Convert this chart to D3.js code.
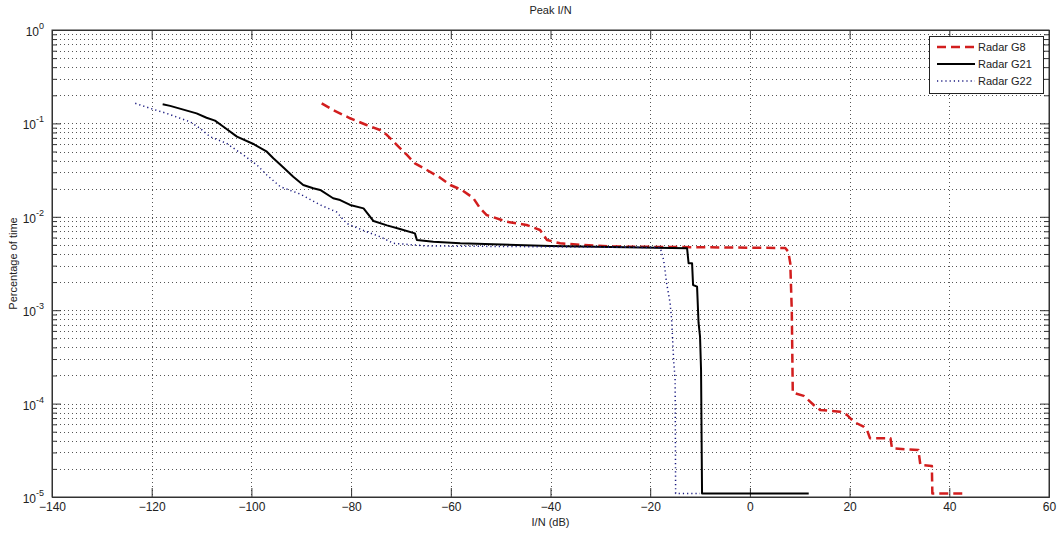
<!DOCTYPE html>
<html><head><meta charset="utf-8">
<script src="https://cdn.jsdelivr.net/npm/d3@7"></script>
<style>body{margin:0;background:#fff}svg{display:block}text{font-family:"Liberation Sans",Arial,sans-serif}</style>
</head><body><svg id="c" width="1057" height="535"></svg>
<script>
const xTicks = [-140,-120,-100,-80,-60,-40,-20,0,20,40,60];
const yExps = [0,-1,-2,-3,-4,-5];
const seriesNames = ["Radar G8","Radar G21","Radar G22"];

const g8X = [-85.9,-83.6,-80.2,-76.9,-74.2,-72.8,-70.8,-68.8,-67.2,-64.8,-62.2,-60.1,-57.8,-55.5,-54.1,-52.8,-48.8,-44.8,-42.1,-40.7,-38.1,-33.4,-28.0,7.1,7.7,8.1,8.4,8.6,10.8,12.8,14.1,18.1,19.5,20.8,22.8,23.5,24.1,28.2,28.5,33.8,34.2,36.5,36.6,43.5];
const g8Y = [0.164,0.139,0.1135,0.0961,0.085,0.0751,0.0587,0.0459,0.0374,0.0317,0.0264,0.0219,0.0194,0.0159,0.0123,0.01045,0.00887,0.00817,0.00722,0.00565,0.0052,0.00499,0.00481,0.00463,0.00423,0.00318,0.001,0.000131,0.000121,0.0000966,0.0000854,0.0000819,0.0000755,0.000064,0.0000566,0.0000522,0.0000425,0.0000425,0.0000332,0.0000318,0.000022,0.0000215,0.0000109,0.0000109];

const g21X = [-117.8,-116.3,-111.0,-109.0,-107.3,-105.6,-102.9,-99.6,-96.9,-95.6,-93.9,-91.6,-89.6,-87.6,-86.2,-83.6,-82.2,-80.2,-77.5,-75.5,-72.8,-70.2,-67.2,-66.8,-63.5,-58.1,-40.1,-12.6,-12.3,-11.6,-11.4,-10.6,-10.3,-10.0,-9.8,-9.6,11.8];
const g21Y = [0.16,0.154,0.128,0.115,0.107,0.0922,0.0721,0.0602,0.0498,0.0423,0.035,0.0269,0.0219,0.0202,0.0194,0.0158,0.0151,0.0134,0.0123,0.009,0.0081,0.0074,0.00665,0.00565,0.00541,0.0052,0.00487,0.0046,0.00318,0.00318,0.00186,0.00179,0.00073,0.00052,0.000229,0.0000109,0.0000109];

const g22X = [-123.3,-120.3,-117.0,-112.3,-110.3,-108.3,-105.0,-101.6,-98.9,-96.9,-94.2,-90.2,-86.2,-82.9,-80.9,-77.5,-74.2,-71.5,-64.8,-18.0,-17.3,-16.7,-16.0,-15.7,-15.3,-15.0,-14.9,-10.0];
const g22Y = [0.164,0.145,0.128,0.104,0.0887,0.0721,0.0612,0.0459,0.0359,0.028,0.021,0.0175,0.0134,0.01125,0.0085,0.00713,0.00612,0.0052,0.00487,0.00469,0.00345,0.00194,0.00119,0.000785,0.000293,0.000179,0.0000109,0.0000109];

const svg = d3.select("#c");
const L=52,R=1049,T=30,B=497;
const x = d3.scaleLinear().domain([-140,60]).range([L,R]);
const y = d3.scaleLog().domain([1e-5,1]).range([B,T]);

const minorY = [];
for (let e=-5;e<0;e++) for (let m=2;m<=9;m++) minorY.push(m*Math.pow(10,e));
const majorY = yExps.map(e=>Math.pow(10,e));

const grid = svg.append("g");
grid.selectAll("line.gy").data(minorY.concat(majorY.slice(1,5))).join("line")
  .attr("x1",L).attr("x2",R).attr("y1",d=>Math.round(y(d))+0.5).attr("y2",d=>Math.round(y(d))+0.5)
  .attr("stroke","#555").attr("stroke-width",1).attr("stroke-dasharray","1,3");
grid.selectAll("line.gx").data(xTicks.slice(1,-1)).join("line")
  .attr("y1",T).attr("y2",B).attr("x1",d=>Math.round(x(d))+0.5).attr("x2",d=>Math.round(x(d))+0.5)
  .attr("stroke","#555").attr("stroke-width",1).attr("stroke-dasharray","1,3");

const axB = d3.axisBottom(x).tickValues(xTicks).tickSizeInner(-9).tickSizeOuter(0).tickPadding(5).tickFormat(d3.format("d"));
const axT = d3.axisTop(x).tickValues(xTicks).tickSizeInner(-9).tickSizeOuter(0).tickFormat("");
const gB = svg.append("g").attr("transform",`translate(0,${B})`).call(axB);
svg.append("g").attr("transform",`translate(0,${T})`).call(axT);
const axL = d3.axisLeft(y).tickValues(majorY).tickSizeInner(-9).tickSizeOuter(0).tickFormat("");
const axR = d3.axisRight(y).tickValues(majorY).tickSizeInner(-9).tickSizeOuter(0).tickFormat("");
svg.append("g").attr("transform",`translate(${L},0)`).call(axL);
svg.append("g").attr("transform",`translate(${R},0)`).call(axR);
const axLm = d3.axisLeft(y).tickValues(minorY).tickSizeInner(-5).tickSizeOuter(0).tickFormat("");
const axRm = d3.axisRight(y).tickValues(minorY).tickSizeInner(-5).tickSizeOuter(0).tickFormat("");
svg.append("g").attr("transform",`translate(${L},0)`).call(axLm);
svg.append("g").attr("transform",`translate(${R},0)`).call(axRm);
svg.selectAll(".domain").attr("stroke","#333");
svg.selectAll(".tick line").attr("stroke","#333");
gB.selectAll(".tick text").attr("font-size",12).attr("fill","#222").attr("font-family","Liberation Sans, Arial");

const yl = svg.append("g");
majorY.forEach((v,i)=>{
  const t = yl.append("text").attr("x",L-8).attr("y",y(v)+6).attr("text-anchor","end").attr("font-size",12).attr("fill","#222");
  t.append("tspan").text("10");
  t.append("tspan").attr("dy",-7).attr("font-size",9).text(String(yExps[i]));
});

svg.append("rect").attr("x",L).attr("y",T).attr("width",R-L).attr("height",B-T).attr("fill","none").attr("stroke","#333");

const line = d3.line().x(d=>x(d[0])).y(d=>y(d[1]));
const styles = [
  {stroke:"#d21e1e",w:2.5,dash:"9,5"},
  {stroke:"#000",w:2,dash:null},
  {stroke:"#1a1a80",w:1.5,dash:"1.2,3"}
];
const data = [d3.zip(g8X,g8Y), d3.zip(g21X,g21Y), d3.zip(g22X,g22Y)];
data.forEach((d,i)=>{
  svg.append("path").datum(d).attr("d",line).attr("fill","none")
    .attr("stroke",styles[i].stroke).attr("stroke-width",styles[i].w)
    .attr("stroke-dasharray",styles[i].dash).attr("stroke-linejoin","round");
});

const lg = svg.append("g");
lg.append("rect").attr("x",929.5).attr("y",36.5).attr("width",114).attr("height",57).attr("fill","#fff").attr("stroke","#222");
seriesNames.forEach((n,i)=>{
  const yy = 47+i*17;
  lg.append("line").attr("x1",937).attr("x2",975).attr("y1",yy).attr("y2",yy)
    .attr("stroke",styles[i].stroke).attr("stroke-width",styles[i].w).attr("stroke-dasharray",styles[i].dash);
  lg.append("text").attr("x",978).attr("y",yy+4).attr("font-size",11).attr("fill","#222").text(n);
});

svg.append("text").attr("x",(L+R)/2).attr("y",14).attr("text-anchor","middle").attr("font-size",11).attr("fill","#222").text("Peak I/N");
svg.append("text").attr("x",(L+R)/2).attr("y",526).attr("text-anchor","middle").attr("font-size",11).attr("fill","#222").text("I/N (dB)");
svg.append("text").attr("transform",`translate(17,${(T+B)/2}) rotate(-90)`).attr("text-anchor","middle").attr("font-size",11).attr("fill","#222").text("Percentage of time");
</script></body></html>
